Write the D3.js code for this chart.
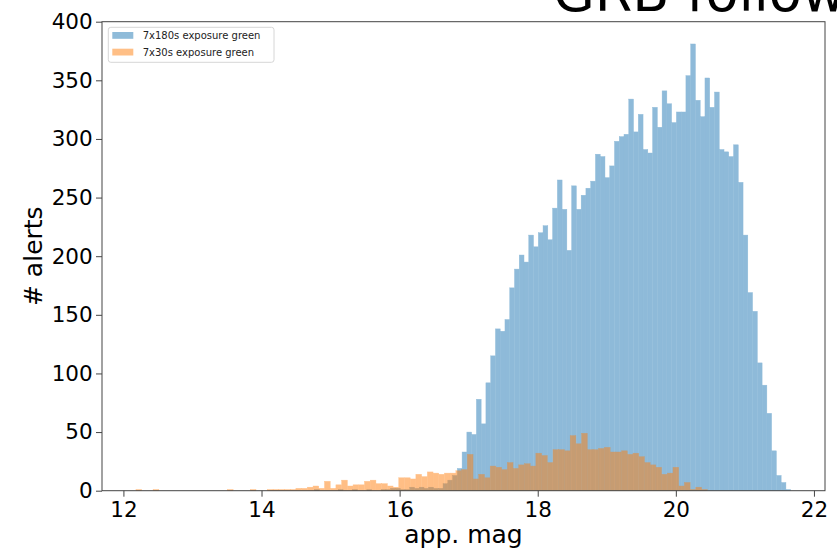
<!DOCTYPE html>
<html>
<head>
<meta charset="utf-8">
<script src="https://cdn.jsdelivr.net/npm/d3@7"></script>
<style>
  html, body { margin: 0; padding: 0; background: #fff; }
  svg { display: block; }
  text { font-family: "DejaVu Sans", sans-serif; }
</style>
</head>
<body>
<svg id="chart" width="837" height="554"></svg>
<script>
// Histogram counts per bin (100 equal-width bins per series)
const longExpRange = [14.767, 21.663];   // 7x180s exposure: first / last bin edge (mag)
const longExpCounts = [
  1, 0, 0, 0, 0, 1, 0, 0, 1, 0,
  0, 1, 0, 0, 1, 1, 2, 2, 1, 1,
  3, 2, 3, 2, 3, 2, 2, 6, 9, 13,
  19, 33, 50, 48, 78, 57, 92, 115, 138, 136,
  146, 173, 189, 201, 195, 218, 208, 220, 226, 214,
  241, 265, 240, 205, 260, 240, 252, 258, 264, 287,
  285, 267, 277, 298, 302, 304, 334, 306, 321, 291,
  288, 327, 310, 341, 330, 314, 323, 323, 354, 381,
  333, 319, 352, 327, 340, 291, 289, 285, 295, 263,
  218, 169, 153, 109, 90, 66, 34, 13, 7, 1
];

const shortExpRange = [12.182, 20.455];  // 7x30s exposure: first / last bin edge (mag)
const shortExpCounts = [
  1, 0, 0, 1, 0, 0, 0, 0, 0, 0,
  0, 0, 0, 0, 0, 0, 1, 0, 0, 0,
  1, 0, 0, 1, 1, 1, 1, 1, 2, 2,
  3, 4, 2, 8, 2, 5, 9, 4, 5, 5,
  8, 9, 6, 6, 4, 3, 11, 11, 10, 14,
  12, 16, 15, 14, 15, 15, 17, 18, 31, 10,
  14, 11, 21, 20, 18, 24, 19, 22, 23, 21,
  32, 30, 24, 35, 35, 34, 47, 40, 49, 35,
  35, 36, 37, 33, 33, 34, 31, 32, 29, 24,
  22, 20, 14, 15, 20, 4, 7, 1, 3, 1
];

const seriesLabels = ["7x180s exposure green", "7x30s exposure green"];
const seriesColors = ["#1f77b4", "#ff7f0e"];
const xTicks = [12, 14, 16, 18, 20, 22];
const yTicks = [0, 50, 100, 150, 200, 250, 300, 350, 400];
const titleText = "GRB follow-up";
const xLabel = "app. mag";
const yLabel = "# alerts";

// Turn a [lo, hi] range and per-bin counts into bin records
function toBins(range, counts) {
  const n = counts.length;
  const w = (range[1] - range[0]) / n;
  return counts.map((c, i) => ({ x0: range[0] + i * w, x1: range[0] + (i + 1) * w, count: c }));
}

const series = [
  { bins: toBins(longExpRange, longExpCounts), color: seriesColors[0], label: seriesLabels[0] },
  { bins: toBins(shortExpRange, shortExpCounts), color: seriesColors[1], label: seriesLabels[1] }
];

const svg = d3.select("#chart");
const W = 837, H = 554;
svg.append("rect").attr("width", W).attr("height", H).attr("fill", "#fff");

const plot = { left: 102, right: 825, top: 21.7, bottom: 490.7 };

const x = d3.scaleLinear().domain([11.69, 22.16]).range([plot.left, plot.right]);
const y = d3.scaleLinear().domain([0, 400]).range([plot.bottom, plot.top]);

// Title (runs off the right edge of the figure)
svg.append("text")
  .attr("x", 553)
  .attr("y", 11)
  .attr("font-size", 54)
  .attr("fill", "#000")
  .text(titleText);

// Bars: each series drawn opaque inside a half-transparent group so overlaps blend;
// a hairline stroke in the fill colour closes the anti-aliasing seams between bins
const barLayer = svg.append("g");
series.forEach(s => {
  barLayer.append("g")
    .attr("opacity", 0.5)
    .selectAll("rect")
    .data(s.bins.filter(b => b.count > 0))
    .join("rect")
    .attr("x", d => x(d.x0))
    .attr("width", d => x(d.x1) - x(d.x0))
    .attr("y", d => y(d.count))
    .attr("height", d => y(0) - y(d.count))
    .attr("fill", s.color)
    .attr("stroke", s.color)
    .attr("stroke-width", 0.4);
});

// Axes
const axisColor = "#444";
const xAxis = svg.append("g")
  .attr("transform", `translate(0,${plot.bottom})`)
  .call(d3.axisBottom(x).tickValues(xTicks).tickFormat(d3.format("d")).tickSize(6).tickPadding(5.4));
const yAxis = svg.append("g")
  .attr("transform", `translate(${plot.left},0)`)
  .call(d3.axisLeft(y).tickValues(yTicks).tickFormat(d3.format("d")).tickSize(6).tickPadding(3.3));

[xAxis, yAxis].forEach(g => {
  g.select(".domain").remove();
  g.selectAll(".tick line").attr("stroke", axisColor).attr("stroke-width", 1);
  g.selectAll(".tick text")
    .attr("font-family", "DejaVu Sans, sans-serif")
    .attr("font-size", 21.5)
    .attr("fill", "#000");
});

// Spines
svg.append("rect")
  .attr("x", plot.left)
  .attr("y", plot.top)
  .attr("width", plot.right - plot.left)
  .attr("height", plot.bottom - plot.top)
  .attr("fill", "none")
  .attr("stroke", axisColor)
  .attr("stroke-width", 1);

// Axis labels
svg.append("text")
  .attr("x", (plot.left + plot.right) / 2)
  .attr("y", 543)
  .attr("text-anchor", "middle")
  .attr("font-size", 25)
  .attr("fill", "#000")
  .text(xLabel);

svg.append("text")
  .attr("transform", `translate(42,${(plot.top + plot.bottom) / 2}) rotate(-90)`)
  .attr("text-anchor", "middle")
  .attr("font-size", 25)
  .attr("fill", "#000")
  .text(yLabel);

// Legend
const legend = svg.append("g");
legend.append("rect")
  .attr("x", 108.3).attr("y", 27.3)
  .attr("width", 165.7).attr("height", 35)
  .attr("rx", 2.5)
  .attr("fill", "#fff").attr("fill-opacity", 0.8)
  .attr("stroke", "#d6d6d6").attr("stroke-width", 1);

series.forEach((s, i) => {
  const cy = 35.3 + i * 16.7;
  legend.append("rect")
    .attr("x", 112.3).attr("y", cy - 3.3)
    .attr("width", 21).attr("height", 6.8)
    .attr("fill", s.color).attr("fill-opacity", 0.5);
  legend.append("text")
    .attr("x", 142.7).attr("y", cy + 3.6)
    .attr("font-size", 10)
    .attr("fill", "#222")
    .text(s.label);
});
</script>
</body>
</html>
